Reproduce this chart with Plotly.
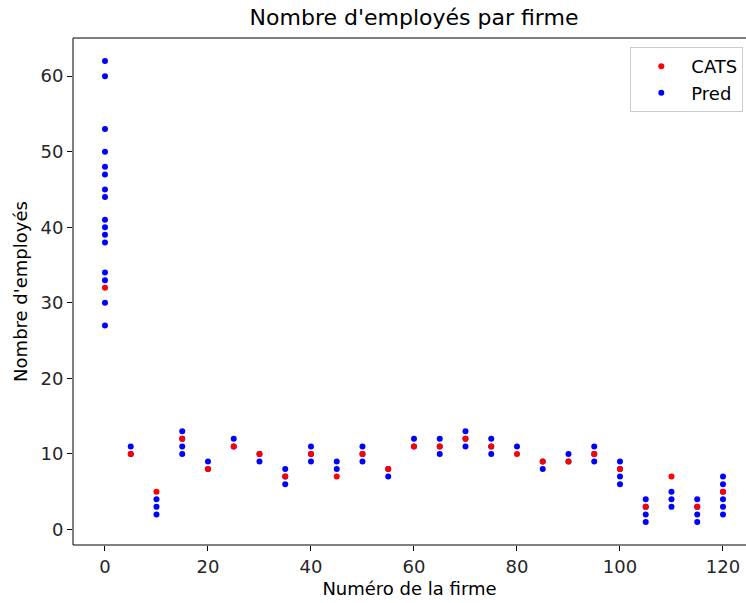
import plotly.graph_objects as go

# Firm numbers (every 5th firm)
firm_ids = [0, 5, 10, 15, 20, 25, 30, 35, 40, 45, 50, 55, 60,
            65, 70, 75, 80, 85, 90, 95, 100, 105, 110, 115, 120]

# Observed number of employees (CATS)
cats_employees = [32, 10, 5, 12, 8, 11, 10, 7, 10, 7, 10, 8, 11,
                  11, 12, 11, 10, 9, 9, 10, 8, 3, 7, 3, 5]

# Predicted number of employees, several predictions per firm
pred_employees = [
    [62, 60, 53, 50, 48, 47, 45, 44, 41, 40, 39, 38, 34, 33, 30, 27],
    [11, 10],
    [4, 3, 2],
    [13, 12, 11, 10],
    [9, 8],
    [12, 11],
    [10, 9],
    [8, 7, 6],
    [11, 10, 9],
    [9, 8],
    [11, 10, 9],
    [8, 7],
    [12, 11],
    [12, 11, 10],
    [13, 12, 11],
    [12, 11, 10],
    [11],
    [9, 8],
    [10, 9],
    [11, 10, 9],
    [9, 8, 7, 6],
    [4, 3, 2, 1],
    [5, 4, 3],
    [4, 3, 2, 1],
    [7, 6, 5, 4, 3, 2],
]

pred_x = [f for f, vals in zip(firm_ids, pred_employees) for _ in vals]
pred_y = [v for vals in pred_employees for v in vals]

FONT = "DejaVu Sans"
TXT = "#262626"

fig = go.Figure()
fig.add_trace(go.Scatter(
    x=pred_x, y=pred_y, mode="markers", name="Pred", legendrank=2,
    marker=dict(color="#0000ff", size=6, line=dict(width=0)),
))
fig.add_trace(go.Scatter(
    x=firm_ids, y=cats_employees, mode="markers", name="CATS", legendrank=1,
    marker=dict(color="#ff0000", size=6, line=dict(width=0)),
))

spine = dict(color="#000000", width=1)
fig.update_layout(
    width=746, height=603,
    margin=dict(l=73, r=0, t=38, b=58),
    paper_bgcolor="white", plot_bgcolor="white",
    font=dict(family=FONT, size=18, color=TXT),
    title=dict(text="Nombre d'employés par firme", x=0.555, xanchor="center",
               y=0.972, yanchor="middle", font=dict(size=22, color="#000000")),
    legend=dict(x=0.996, xanchor="right", y=0.982, yanchor="top",
                bgcolor="white", bordercolor="#cccccc", borderwidth=1,
                font=dict(size=18, color="#000000"),
                itemwidth=50, tracegroupgap=0),
    showlegend=True,
    # axes frame: left, top and bottom spines
    shapes=[
        dict(type="line", xref="paper", yref="paper", x0=0, x1=1, y0=1, y1=1, line=spine),
        dict(type="line", xref="paper", yref="paper", x0=0, x1=1, y0=0, y1=0, line=spine),
        dict(type="line", xref="paper", yref="paper", x0=0, x1=0, y0=0, y1=1, line=spine),
    ],
)
fig.update_xaxes(
    range=[-6.21, 124.47], tickmode="array", tickvals=[0, 20, 40, 60, 80, 100, 120],
    showgrid=False, zeroline=False, showline=False,
    ticks="outside", ticklen=5, tickcolor="#000000",
    title=dict(text="Numéro de la firme", standoff=6, font=dict(size=18, color="#000000")),
    tickfont=dict(size=18, color=TXT),
)
fig.update_yaxes(
    range=[-2.05, 65.05], tickmode="array", tickvals=[0, 10, 20, 30, 40, 50, 60],
    showgrid=False, zeroline=False, showline=False,
    ticks="outside", ticklen=5, tickcolor="#000000",
    title=dict(text="Nombre d'employés", standoff=8, font=dict(size=18, color="#000000")),
    tickfont=dict(size=18, color=TXT),
)

fig.write_html("out.html")
